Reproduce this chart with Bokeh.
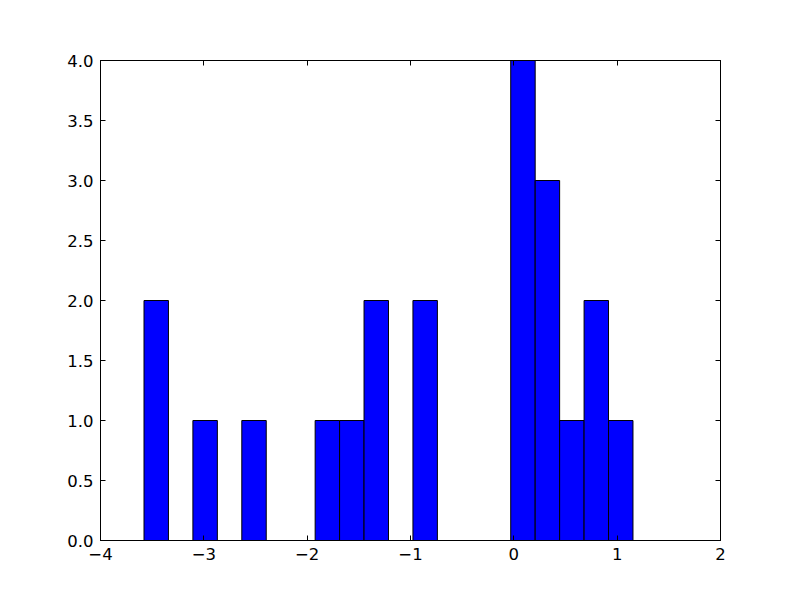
import numpy as np
from bokeh.plotting import figure
from bokeh.models import Range1d, LinearAxis, FixedTicker, ColumnDataSource
from bokeh.embed import file_html
from bokeh.resources import INLINE

# Histogram data (20 bins between lo and hi)
bin_lo = -3.579
bin_hi = 1.153
n_bins = 20
counts = [2, 0, 1, 0, 1, 0, 0, 1, 1, 2, 0, 2, 0, 0, 0, 4, 3, 1, 2, 1]

x_ticks = [-4, -3, -2, -1, 0, 1, 2]
x_tick_labels = ["\u22124", "\u22123", "\u22122", "\u22121", "0", "1", "2"]
y_ticks = [0.0, 0.5, 1.0, 1.5, 2.0, 2.5, 3.0, 3.5, 4.0]
y_tick_labels = ["%.1f" % v for v in y_ticks]

edges = np.linspace(bin_lo, bin_hi, n_bins + 1)
left, right, top = [], [], []
for i, c in enumerate(counts):
    if c > 0:
        left.append(edges[i]); right.append(edges[i + 1]); top.append(c)
src = ColumnDataSource(dict(left=left, right=right, top=top, bottom=[0] * len(top)))

p = figure(width=784, height=584, output_backend="svg", toolbar_location=None,
           x_range=Range1d(-4, 2), y_range=Range1d(0, 4),
           x_axis_location=None, y_axis_location=None,
           min_border_left=100, min_border_right=64, min_border_top=60, min_border_bottom=44)
p.xgrid.visible = False
p.ygrid.visible = False
p.outline_line_color = "black"
p.outline_line_width = 1
p.background_fill_color = "white"
p.border_fill_color = "white"

p.quad(left="left", right="right", top="top", bottom="bottom", source=src,
       fill_color="#0000ff", line_color="black", line_width=1)

FONT = "DejaVu Sans"
FS = "16.5px"

def make_axis(ticks, labels, show_labels):
    ax = LinearAxis(ticker=FixedTicker(ticks=ticks))
    ax.major_label_overrides = {t: l for t, l in zip(ticks, labels)}
    ax.major_tick_in = 5
    ax.major_tick_out = 0
    ax.minor_tick_in = 0
    ax.minor_tick_out = 0
    ax.major_tick_line_color = "black"
    ax.axis_line_color = "black"
    ax.major_label_text_font = FONT
    ax.major_label_text_font_size = FS
    ax.major_label_text_color = "black" if show_labels else None
    ax.major_label_standoff = 7
    return ax

p.add_layout(make_axis(x_ticks, x_tick_labels, True), "below")
p.add_layout(make_axis(y_ticks, y_tick_labels, True), "left")
top_ax = make_axis(x_ticks, [""] * len(x_ticks), False)
right_ax = make_axis(y_ticks, [""] * len(y_ticks), False)
p.add_layout(top_ax, "above")
p.add_layout(right_ax, "right")

open("out.html", "w").write(file_html(p, INLINE))
